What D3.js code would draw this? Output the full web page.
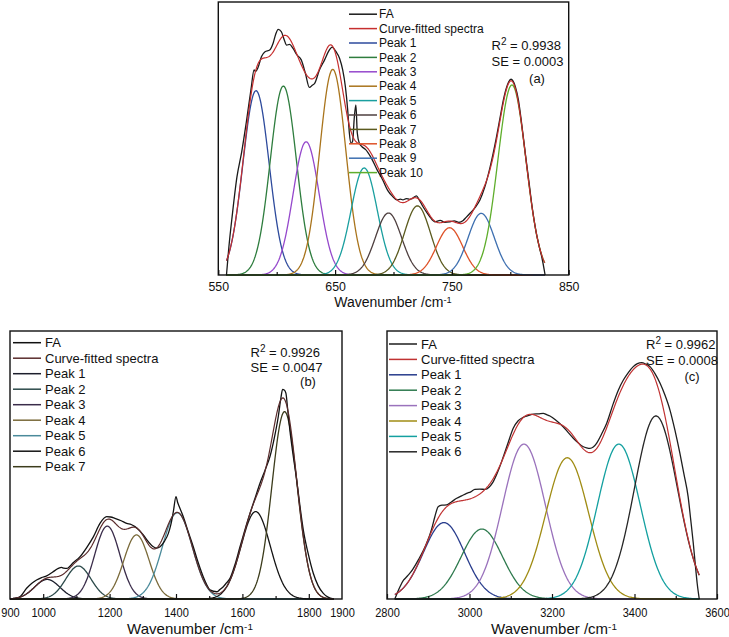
<!DOCTYPE html>
<html><head><meta charset="utf-8">
<script src="https://cdn.jsdelivr.net/npm/d3@7"></script>
<style>
body{margin:0;background:#fff}
svg text{font-family:Arial,"Liberation Sans",sans-serif;fill:#111}
</style></head>
<body><svg id="chart" width="729" height="637"></svg>
<script>
// ---------- Panel (a) ----------
const aLegend = ["FA","Curve-fitted spectra","Peak 1","Peak 2","Peak 3","Peak 4","Peak 5","Peak 6","Peak 7","Peak 8","Peak 9","Peak 10"];
const aColors = ["#1a1a1a","#c62f2f","#2d4a9c","#2e7d3e","#9548cc","#a9741c","#1a9f9f","#4e3f3f","#5b5a1e","#de5228","#3d6fb0","#5fae2c"];
const aCenters = [582.3, 605.7, 625.2, 648.0, 674.9, 695.7, 720.5, 748.0, 775.1, 801.4];
const aHeights = [0.675, 0.692, 0.488, 0.753, 0.392, 0.227, 0.253, 0.173, 0.226, 0.696];
const aWidths  = [11.2, 11.2, 11.2, 11.2, 11.2, 11.2, 11.2, 11.2, 11.2, 12.0];
const aSpan = [557, 829.5];
const aFA = [[557,0],[559,0.1],[562,0.22],[566,0.36],[570,0.45],[574,0.56],[578,0.68],[580.6,0.751],[582,0.745],[584,0.76],[587,0.8],[590,0.818],[594,0.824],[597,0.85],[599,0.88],[601.3,0.9],[604,0.891],[606.5,0.861],[608.5,0.842],[611,0.845],[614,0.83],[617.5,0.805],[621,0.788],[624.5,0.74],[628,0.687],[630.5,0.695],[632.5,0.702],[636.5,0.75],[641,0.788],[644.5,0.82],[647.5,0.835],[650.5,0.82],[653.8,0.794],[656.5,0.751],[658.8,0.69],[660.8,0.604],[662.2,0.52],[663.6,0.482],[665,0.49],[666.5,0.58],[667.8,0.623],[669,0.52],[670.7,0.483],[673,0.47],[676,0.46],[680.8,0.43],[686,0.385],[690.8,0.348],[695,0.31],[699.4,0.287],[703,0.275],[706,0.278],[708,0.275],[711,0.28],[713.8,0.277],[716,0.28],[719.6,0.29],[722,0.275],[725.3,0.25],[728,0.232],[731,0.214],[735.3,0.195],[740,0.2],[744,0.193],[748.3,0.195],[752,0.198],[756,0.193],[759.7,0.2],[762,0.21],[765.5,0.226],[770,0.248],[774,0.275],[778,0.32],[782.8,0.397],[787,0.48],[791.4,0.58],[794,0.64],[797,0.69],[800.6,0.717],[804.3,0.69],[807,0.64],[810,0.545],[813,0.44],[816,0.34],[819,0.24],[822,0.16],[825,0.1],[827,0.065],[829,0.02],[829.8,0]];
const aTicks = [550, 650, 750, 850];
const aMinor = [600, 700, 800];
const aStats = ["0.9938", "0.0003", "(a)"];

// ---------- Panel (b) ----------
const bLegend = ["FA","Curve-fitted spectra","Peak 1","Peak 2","Peak 3","Peak 4","Peak 5","Peak 6","Peak 7"];
const bColors = ["#111111","#5a2c2c","#1c1e2c","#2c4a4a","#3a2c4a","#7a6a3a","#4a8a9a","#141414","#3c3c1c"];
const bCenters = [1012, 1106, 1193, 1281, 1404, 1640, 1727];
const bHeights = [0.073, 0.123, 0.272, 0.239, 0.322, 0.326, 0.699];
const bWidths  = [38, 38, 38, 38, 45, 44, 38];
const bSpan = [900, 1875];
const bFA = [[900,0],[915,0.002],[931,0.009],[950,0.04],[965,0.058],[980,0.071],[995,0.08],[1010.5,0.086],[1028,0.1],[1045.5,0.114],[1055,0.118],[1062,0.115],[1071,0.114],[1090,0.135],[1111,0.158],[1131,0.192],[1151,0.232],[1171,0.282],[1191,0.307],[1203,0.306],[1216,0.301],[1235,0.292],[1251.5,0.282],[1265,0.278],[1276.5,0.27],[1290,0.255],[1301.5,0.239],[1316,0.215],[1331.6,0.195],[1342,0.19],[1352,0.195],[1365,0.215],[1377,0.245],[1385,0.28],[1392,0.326],[1400,0.382],[1405,0.36],[1410,0.344],[1422,0.307],[1437,0.25],[1452,0.195],[1467,0.135],[1482,0.083],[1492,0.055],[1502,0.034],[1522.5,0.027],[1532,0.035],[1542.5,0.046],[1552,0.06],[1562.7,0.077],[1578,0.13],[1592.8,0.195],[1608,0.26],[1623,0.32],[1638,0.376],[1653,0.432],[1668,0.48],[1683,0.531],[1696,0.6],[1708,0.68],[1716,0.75],[1721,0.782],[1726,0.78],[1731,0.768],[1737,0.7],[1743,0.63],[1753,0.535],[1763.5,0.444],[1773,0.35],[1783.5,0.257],[1798,0.17],[1813.5,0.096],[1828,0.05],[1843.7,0.021],[1858,0.007],[1874,0]];
const bTicks = [900, 1000, 1200, 1400, 1600, 1800, 1900];
const bMajor = [1000, 1200, 1400, 1600, 1800];
const bMinor = [1100, 1300, 1500, 1700];
const bStats = ["0.9926", "0.0047", "(b)"];

// ---------- Panel (c) ----------
const cLegend = ["FA","Curve-fitted spectra","Peak 1","Peak 2","Peak 3","Peak 4","Peak 5","Peak 6"];
const cColors = ["#1e1e1e","#c03232","#283c8c","#2e7a4e","#9a72bc","#a08c14","#14a0a0","#262626"];
const cCenters = [2938, 3030, 3132, 3237, 3362, 3452];
const cHeights = [0.285, 0.261, 0.578, 0.527, 0.578, 0.683];
const cWidths  = [50, 50, 52, 52, 52, 52];
const cSpan = [2819, 3557];
const cFA = [[2819,0],[2831.5,0.046],[2840,0.07],[2847.8,0.083],[2853,0.092],[2862,0.11],[2876,0.146],[2896,0.208],[2908,0.26],[2916,0.307],[2924,0.344],[2933,0.35],[2944.6,0.351],[2956,0.362],[2969,0.376],[2981,0.385],[2993,0.394],[3003,0.4],[3013,0.409],[3025,0.41],[3037.6,0.409],[3048,0.418],[3057.7,0.438],[3070,0.48],[3082,0.531],[3094,0.585],[3106,0.637],[3118,0.665],[3130.4,0.678],[3142,0.684],[3154.7,0.69],[3167,0.691],[3179,0.693],[3187,0.688],[3195,0.683],[3211,0.665],[3227,0.643],[3240,0.62],[3251.7,0.6],[3264,0.582],[3276,0.568],[3284,0.564],[3292,0.562],[3300,0.567],[3308,0.581],[3320,0.615],[3332.6,0.656],[3348.7,0.73],[3361,0.78],[3373,0.817],[3385,0.845],[3397,0.867],[3407,0.878],[3417.5,0.882],[3427,0.877],[3437.6,0.867],[3450,0.84],[3462,0.805],[3474,0.76],[3486,0.705],[3498,0.63],[3510,0.544],[3520,0.465],[3530,0.382],[3536,0.3],[3542.5,0.208],[3547,0.135],[3552,0.058],[3557,0]];
const cTicks = [2800, 3000, 3200, 3400, 3600];
const cMinor = [2900, 3100, 3300, 3500];
const cStats = ["0.9962", "0.0008", "(c)"];

const svg = d3.select("#chart");

function gauss(xv, c, h, s){ return h * Math.exp(-0.5 * ((xv - c) / s) ** 2); }

function panel(o){
  const x = d3.scaleLinear().domain(o.xDomain).range([o.left, o.right]);
  const y = d3.scaleLinear().domain([0, 1]).range([o.bottom, o.top]);
  const g = svg.append("g");
  const line = d3.line().x(d => x(d[0])).y(d => y(d[1]));
  const xs = d3.range(o.span[0], o.span[1], o.step).concat([o.span[1]]);
  // individual fitted peaks
  o.centers.forEach((c, i) => {
    const pts = xs.map(v => [v, gauss(v, c, o.heights[i], o.widths[i])]);
    g.append("path").attr("d", line(pts)).attr("fill", "none")
      .attr("stroke", o.colors[i + 2]).attr("stroke-width", 1.3);
  });
  // experimental
  g.append("path").attr("d", line.curve(d3.curveMonotoneX)(o.fa)).attr("fill", "none")
    .attr("stroke", o.colors[0]).attr("stroke-width", 1.3);
  line.curve(d3.curveLinear);
  // fitted sum
  const sum = xs.map(v => [v, d3.sum(o.centers, (c, i) => gauss(v, c, o.heights[i], o.widths[i]))]);
  g.append("path").attr("d", line(sum)).attr("fill", "none")
    .attr("stroke", o.colors[1]).attr("stroke-width", 1.2);

  // frame
  g.append("rect").attr("x", o.left).attr("y", o.top)
    .attr("width", o.right - o.left).attr("height", o.bottom - o.top)
    .attr("fill", "none").attr("stroke", "#111").attr("stroke-width", 1.4);

  // axis: labels
  const ax = g.append("g").attr("transform", `translate(0,${o.bottom})`)
    .call(d3.axisBottom(x).tickValues(o.ticks).tickFormat(d3.format("d"))
      .tickSize(0).tickPadding(o.pad));
  ax.select(".domain").remove();
  ax.selectAll("text").attr("font-size", 13).attr("font-family", null)
    .attr("transform", `scale(${o.sx},1)`);
  // major & minor ticks (inward)
  const mj = g.append("g").attr("transform", `translate(0,${o.bottom})`)
    .call(d3.axisBottom(x).tickValues(o.major).tickFormat("").tickSizeInner(-5).tickSizeOuter(0));
  mj.select(".domain").remove();
  const mn = g.append("g").attr("transform", `translate(0,${o.bottom})`)
    .call(d3.axisBottom(x).tickValues(o.minor).tickFormat("").tickSizeInner(-3).tickSizeOuter(0));
  mn.select(".domain").remove();
  g.selectAll(".tick line").attr("stroke", "#111").attr("stroke-width", 1.2);

  // axis title
  const t = g.append("text").attr("x", o.titleX).attr("y", o.titleY)
    .attr("text-anchor", "middle").attr("font-size", o.titleSize);
  t.append("tspan").text("Wavenumber /cm");
  t.append("tspan").attr("dy", -4).attr("font-size", o.titleSize * 0.66).text("-1");

  // legend
  o.legend.forEach((lab, i) => {
    const cy = o.legY + i * o.legStep;
    g.append("line").attr("x1", o.legX0).attr("x2", o.legX1).attr("y1", cy).attr("y2", cy)
      .attr("stroke", o.colors[i]).attr("stroke-width", 1.5);
    g.append("text").attr("x", o.legText).attr("y", cy).attr("dy", "0.35em")
      .attr("font-size", o.legSize).text(lab);
  });

  // statistics
  const r = g.append("text").attr("x", o.statX).attr("y", o.statY).attr("font-size", 13);
  r.append("tspan").text("R");
  r.append("tspan").attr("dy", -5).attr("font-size", 10).text("2");
  r.append("tspan").attr("dy", 5).text(" = " + o.stats[0]);
  g.append("text").attr("x", o.statX).attr("y", o.statY + o.statStep).attr("font-size", 13)
    .text("SE = " + o.stats[1]);
  g.append("text").attr("x", o.tagX).attr("y", o.tagY).attr("text-anchor", "middle")
    .attr("font-size", 13).text(o.stats[2]);
}

panel({xDomain:[550,850], left:218.3, right:568.7, top:2, bottom:275,
  span:aSpan, step:0.5, centers:aCenters, heights:aHeights, widths:aWidths, fa:aFA,
  colors:aColors, ticks:aTicks, major:aTicks, minor:aMinor, pad:7, sx:0.95,
  titleX:393, titleY:307, titleSize:14,
  legend:aLegend, legY:14.2, legStep:14.4, legX0:349, legX1:377, legText:379, legSize:12,
  stats:aStats, statX:491.5, statY:50, statStep:15.5, tagX:537, tagY:83});

panel({xDomain:[900,1900], left:10, right:342, top:331, bottom:599,
  span:bSpan, step:2, centers:bCenters, heights:bHeights, widths:bWidths, fa:bFA,
  colors:bColors, ticks:bTicks, major:bMajor, minor:bMinor, pad:9, sx:0.85,
  titleX:190, titleY:634, titleSize:15,
  legend:bLegend, legY:342.7, legStep:15.5, legX0:13, legX1:41, legText:45, legSize:13,
  stats:bStats, statX:250.5, statY:356.5, statStep:15.5, tagX:308, tagY:386});

panel({xDomain:[2800,3600], left:387, right:717, top:331, bottom:599,
  span:cSpan, step:2, centers:cCenters, heights:cHeights, widths:cWidths, fa:cFA,
  colors:cColors, ticks:cTicks, major:cTicks, minor:cMinor, pad:9, sx:0.85,
  titleX:554, titleY:634, titleSize:15,
  legend:cLegend, legY:344, legStep:15.4, legX0:389, legX1:417, legText:421, legSize:13,
  stats:cStats, statX:646, statY:349, statStep:16, tagX:692, tagY:381});
</script>
</body></html>
